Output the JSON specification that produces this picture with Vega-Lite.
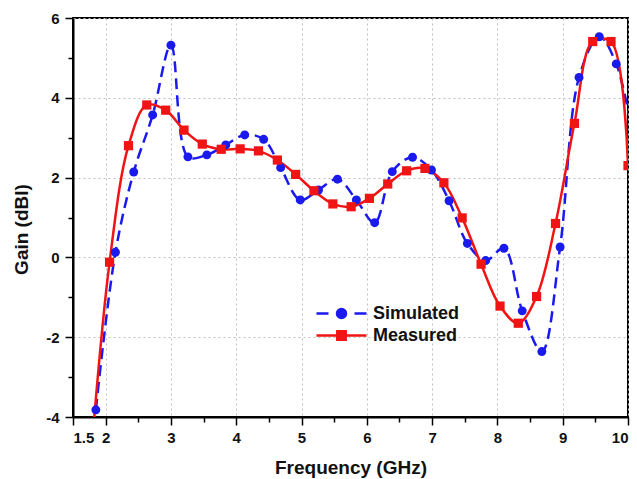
{
  "$schema": "https://vega.github.io/schema/vega-lite/v6.json",
  "width": 555,
  "height": 399,
  "autosize": {"type": "none"},
  "padding": {"left": 73, "top": 18, "right": 9, "bottom": 62},
  "background": "white",
  "datasets": {
    "gain": [
      {"series": "Simulated", "f": 1.85, "g": -3.82},
      {"series": "Simulated", "f": 2.15, "g": 0.13},
      {"series": "Simulated", "f": 2.43, "g": 2.14},
      {"series": "Simulated", "f": 2.72, "g": 3.57},
      {"series": "Simulated", "f": 3.0, "g": 5.32},
      {"series": "Simulated", "f": 3.26, "g": 2.52},
      {"series": "Simulated", "f": 3.55, "g": 2.57},
      {"series": "Simulated", "f": 3.84, "g": 2.82},
      {"series": "Simulated", "f": 4.13, "g": 3.07},
      {"series": "Simulated", "f": 4.42, "g": 2.96},
      {"series": "Simulated", "f": 4.68, "g": 2.25},
      {"series": "Simulated", "f": 4.98, "g": 1.44},
      {"series": "Simulated", "f": 5.26, "g": 1.69},
      {"series": "Simulated", "f": 5.55, "g": 1.96},
      {"series": "Simulated", "f": 5.84, "g": 1.44},
      {"series": "Simulated", "f": 6.12, "g": 0.87},
      {"series": "Simulated", "f": 6.39, "g": 2.15},
      {"series": "Simulated", "f": 6.7, "g": 2.51},
      {"series": "Simulated", "f": 6.99, "g": 2.19},
      {"series": "Simulated", "f": 7.26, "g": 1.42},
      {"series": "Simulated", "f": 7.54, "g": 0.35},
      {"series": "Simulated", "f": 7.82, "g": -0.08},
      {"series": "Simulated", "f": 8.1, "g": 0.23},
      {"series": "Simulated", "f": 8.38, "g": -1.34},
      {"series": "Simulated", "f": 8.68, "g": -2.36},
      {"series": "Simulated", "f": 8.96, "g": 0.26},
      {"series": "Simulated", "f": 9.25, "g": 4.51},
      {"series": "Simulated", "f": 9.56, "g": 5.53},
      {"series": "Simulated", "f": 9.82, "g": 4.85},
      {"series": "Simulated", "f": 10.1, "g": 2.8},
      {"series": "Measured", "f": 1.77, "g": -5.1},
      {"series": "Measured", "f": 2.06, "g": -0.12},
      {"series": "Measured", "f": 2.35, "g": 2.8},
      {"series": "Measured", "f": 2.63, "g": 3.82},
      {"series": "Measured", "f": 2.92, "g": 3.69},
      {"series": "Measured", "f": 3.2, "g": 3.19},
      {"series": "Measured", "f": 3.48, "g": 2.84},
      {"series": "Measured", "f": 3.77, "g": 2.71},
      {"series": "Measured", "f": 4.06, "g": 2.72},
      {"series": "Measured", "f": 4.34, "g": 2.67},
      {"series": "Measured", "f": 4.63, "g": 2.44},
      {"series": "Measured", "f": 4.91, "g": 2.08},
      {"series": "Measured", "f": 5.19, "g": 1.67},
      {"series": "Measured", "f": 5.48, "g": 1.34},
      {"series": "Measured", "f": 5.76, "g": 1.27},
      {"series": "Measured", "f": 6.04, "g": 1.48},
      {"series": "Measured", "f": 6.32, "g": 1.84},
      {"series": "Measured", "f": 6.61, "g": 2.17},
      {"series": "Measured", "f": 6.89, "g": 2.23},
      {"series": "Measured", "f": 7.18, "g": 1.87},
      {"series": "Measured", "f": 7.46, "g": 0.99},
      {"series": "Measured", "f": 7.75, "g": -0.17},
      {"series": "Measured", "f": 8.04, "g": -1.22},
      {"series": "Measured", "f": 8.32, "g": -1.65},
      {"series": "Measured", "f": 8.6, "g": -0.98},
      {"series": "Measured", "f": 8.89, "g": 0.85},
      {"series": "Measured", "f": 9.18, "g": 3.36},
      {"series": "Measured", "f": 9.46, "g": 5.41},
      {"series": "Measured", "f": 9.74, "g": 5.41},
      {"series": "Measured", "f": 10.0, "g": 2.3}
    ]
  },
  "data": {"name": "gain"},
  "encoding": {
    "x": {
      "field": "f", "type": "quantitative",
      "scale": {"domain": [1.5, 10], "nice": false, "zero": false},
      "axis": {
        "title": "Frequency (GHz)",
        "values": [1.5, 2, 2.5, 3, 3.5, 4, 4.5, 5, 5.5, 6, 6.5, 7, 7.5, 8, 8.5, 9, 9.5, 10],
        "labelExpr": "(datum.value === 1.5 || datum.value % 1 === 0) ? '' + datum.value : ''",
        "tickSize": {"condition": {"test": "datum.value === 1.5 || datum.value % 1 === 0", "value": 8}, "value": 5},
        "gridOpacity": {"condition": {"test": "datum.value % 1 === 0", "value": 1}, "value": 0},
        "labelPadding": 5,
        "titleBaseline": "alphabetic",
        "titleY": 56
      }
    },
    "y": {
      "field": "g", "type": "quantitative",
      "scale": {"domain": [-4, 6], "nice": false, "zero": false},
      "axis": {
        "title": "Gain (dBI)",
        "values": [-4, -3, -2, -1, 0, 1, 2, 3, 4, 5, 6],
        "labelExpr": "datum.value % 2 === 0 ? '' + datum.value : ''",
        "tickSize": {"condition": {"test": "datum.value % 2 === 0", "value": 8}, "value": 5},
        "gridOpacity": {"condition": {"test": "datum.value % 2 === 0", "value": 1}, "value": 0},
        "labelPadding": 6,
        "titleX": -42,
        "titleY": 211
      }
    },
    "color": {
      "field": "series", "type": "nominal",
      "scale": {"domain": ["Simulated", "Measured"], "range": ["#1a1aee", "#f01414"]},
      "legend": {
        "orient": "none",
        "legendX": 257,
        "legendY": 284,
        "title": null,
        "padding": 0,
        "symbolSize": 400,
        "symbolStrokeWidth": 2.5,
        "labelOffset": 20,
        "rowPadding": 1,
        "labelFont": "Liberation Sans",
        "labelFontWeight": "bold",
        "labelFontSize": 18,
        "labelColor": "#111111",
        "labelBaseline": "middle",
        "encode": {
          "symbols": {
            "update": {
              "shape": {"signal": "datum.value === 'Simulated' ? 'M-2.5,0H-1.3M-0.45,0A0.45,0.45 0 1,1 0.45,0A0.45,0.45 0 1,1 -0.45,0M1.3,0H2.5' : 'M-2.5,0H2.5M-0.42,-0.42H0.42V0.42H-0.42Z'"},
              "fill": {"signal": "scale('color', datum.value)"},
              "stroke": {"signal": "scale('color', datum.value)"},
              "strokeWidth": {"value": 2.5},
              "opacity": {"value": 1},
              "fillOpacity": {"value": 1}
            }
          }
        }
      }
    }
  },
  "layer": [
    {
      "transform": [{"filter": "datum.series === 'Simulated'"}],
      "mark": {"type": "line", "interpolate": "catmull-rom", "strokeWidth": 2.5, "strokeDash": [11, 6], "clip": true}
    },
    {
      "transform": [{"filter": "datum.series === 'Measured'"}],
      "mark": {"type": "line", "interpolate": "catmull-rom", "strokeWidth": 2.5, "clip": true}
    },
    {
      "transform": [{"filter": "datum.series === 'Simulated'"}],
      "mark": {"type": "point", "shape": "circle", "filled": true, "size": 80, "opacity": 1, "clip": true}
    },
    {
      "transform": [{"filter": "datum.series === 'Measured'"}],
      "mark": {"type": "point", "shape": "square", "filled": true, "size": 85, "opacity": 1, "clip": true}
    }
  ],
  "config": {
    "view": {"stroke": "#000000", "strokeWidth": 2},
    "axis": {
      "domainColor": "#000000",
      "domainWidth": 2,
      "tickColor": "#000000",
      "tickWidth": 1.5,
      "labelFont": "Liberation Sans",
      "labelFontWeight": "bold",
      "labelFontSize": 15,
      "labelColor": "#111111",
      "titleFont": "Liberation Sans",
      "titleFontWeight": "bold",
      "titleFontSize": 19,
      "titleColor": "#111111",
      "grid": true,
      "gridColor": "#c0c0c0",
      "gridDash": [2, 3],
      "gridWidth": 1
    }
  }
}
